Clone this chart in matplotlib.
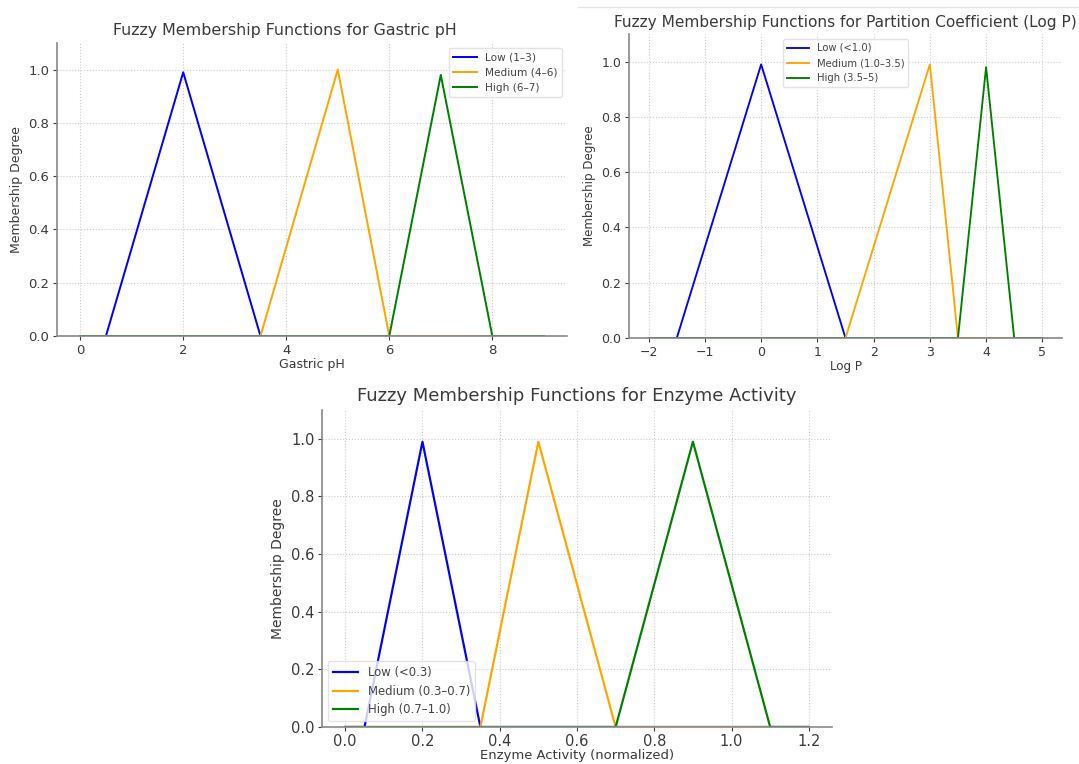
import numpy as np
import matplotlib
matplotlib.use("Agg")
import matplotlib.pyplot as plt
from matplotlib.lines import Line2D

W, H = 1079, 764

# Gastric pH panel: x vertices and membership values for each set
ph_x = [0, 0.5, 2, 3.5, 5, 6, 7, 8, 9]
ph_low = [0, 0, 0.99, 0, 0, 0, 0, 0, 0]
ph_med = [0, 0, 0, 0, 1.0, 0, 0, 0, 0]
ph_high = [0, 0, 0, 0, 0, 0, 0.98, 0, 0]
ph_labels = ["Low (1–3)", "Medium (4–6)", "High (6–7)"]

# Log P panel
logp_x = [-2, -1.5, 0, 1.5, 3, 3.5, 4, 4.5, 5]
logp_low = [0, 0, 0.99, 0, 0, 0, 0, 0, 0]
logp_med = [0, 0, 0, 0, 0.99, 0, 0, 0, 0]
logp_high = [0, 0, 0, 0, 0, 0, 0.98, 0, 0]
logp_labels = ["Low (<1.0)", "Medium (1.0–3.5)", "High (3.5–5)"]

# Enzyme activity panel
enz_x = [0, 0.05, 0.2, 0.35, 0.5, 0.7, 0.9, 1.1, 1.2]
enz_low = [0, 0, 0.99, 0, 0, 0, 0, 0, 0]
enz_med = [0, 0, 0, 0, 0.99, 0, 0, 0, 0]
enz_high = [0, 0, 0, 0, 0, 0, 0.99, 0, 0]
enz_labels = ["Low (<0.3)", "Medium (0.3–0.7)", "High (0.7–1.0)"]

colors = ["blue", "orange", "green"]
text_col = "#3a3a3a"


def px_axes(fig, left, right, top, bottom):
    return fig.add_axes([left / W, (H - bottom) / H, (right - left) / W, (bottom - top) / H])


def draw_panel(ax, x, series, labels, title, xlabel, s, legend_loc, title_s=1.0, title_x=0.5,
               xlab_s=1.0, xpad=1.0, tpad=3.0):
    for y, lab, c in zip(series, labels, colors):
        ax.plot(x, y, color=c, lw=1.5 * s, label=lab)
    ax.set_ylim(0, 1.1)
    ax.set_yticks([0, 0.2, 0.4, 0.6, 0.8, 1.0])
    ax.set_title(title, fontsize=12 * s * title_s, color=text_col, pad=6 * s, x=title_x)
    ax.set_xlabel(xlabel, fontsize=9.5 * s * xlab_s, color=text_col, labelpad=xpad * s)
    ax.set_ylabel("Membership Degree", fontsize=9.5 * s, color=text_col, labelpad=4 * s)
    ax.tick_params(labelsize=10 * s, colors=text_col, length=3 * s, width=0.8, pad=tpad * s)
    ax.grid(True, ls=":", color="#cccccc", lw=0.8)
    for sp in ["top", "right"]:
        ax.spines[sp].set_visible(False)
    for sp in ["left", "bottom"]:
        ax.spines[sp].set_color("#888888")
        ax.spines[sp].set_linewidth(1.2)
    ax.set_axisbelow(True)
    leg = ax.legend(loc=legend_loc, fontsize=8 * s, framealpha=0.8,
                    edgecolor="#dddddd", handlelength=2.2)
    for t in leg.get_texts():
        t.set_color("#444444")


fig = plt.figure(figsize=(W / 100, H / 100), dpi=100)

ax1 = px_axes(fig, 57, 567, 43, 336)
draw_panel(ax1, ph_x, [ph_low, ph_med, ph_high], ph_labels,
           "Fuzzy Membership Functions for Gastric pH", "Gastric pH", 0.95, "upper right",
           title_x=0.447)
ax1.set_xticks([0, 2, 4, 6, 8])

ax2 = px_axes(fig, 629, 1062, 34, 338)
draw_panel(ax2, logp_x, [logp_low, logp_med, logp_high], logp_labels,
           "Fuzzy Membership Functions for Partition Coefficient (Log P)", "Log P", 0.9, "upper center",
           title_s=1.03)

ax3 = px_axes(fig, 322, 832, 410, 727)
draw_panel(ax3, enz_x, [enz_low, enz_med, enz_high], enz_labels,
           "Fuzzy Membership Functions for Enzyme Activity", "Enzyme Activity (normalized)", 1.05, "lower left",
           title_s=1.03, xlab_s=0.95, xpad=0.0, tpad=2.0)

# thin screenshot border above the right panel
fig.add_artist(Line2D([578 / W, 1], [(H - 7) / H] * 2, color="#e6e6e6", lw=1))

fig.savefig("out.png", dpi=100)
